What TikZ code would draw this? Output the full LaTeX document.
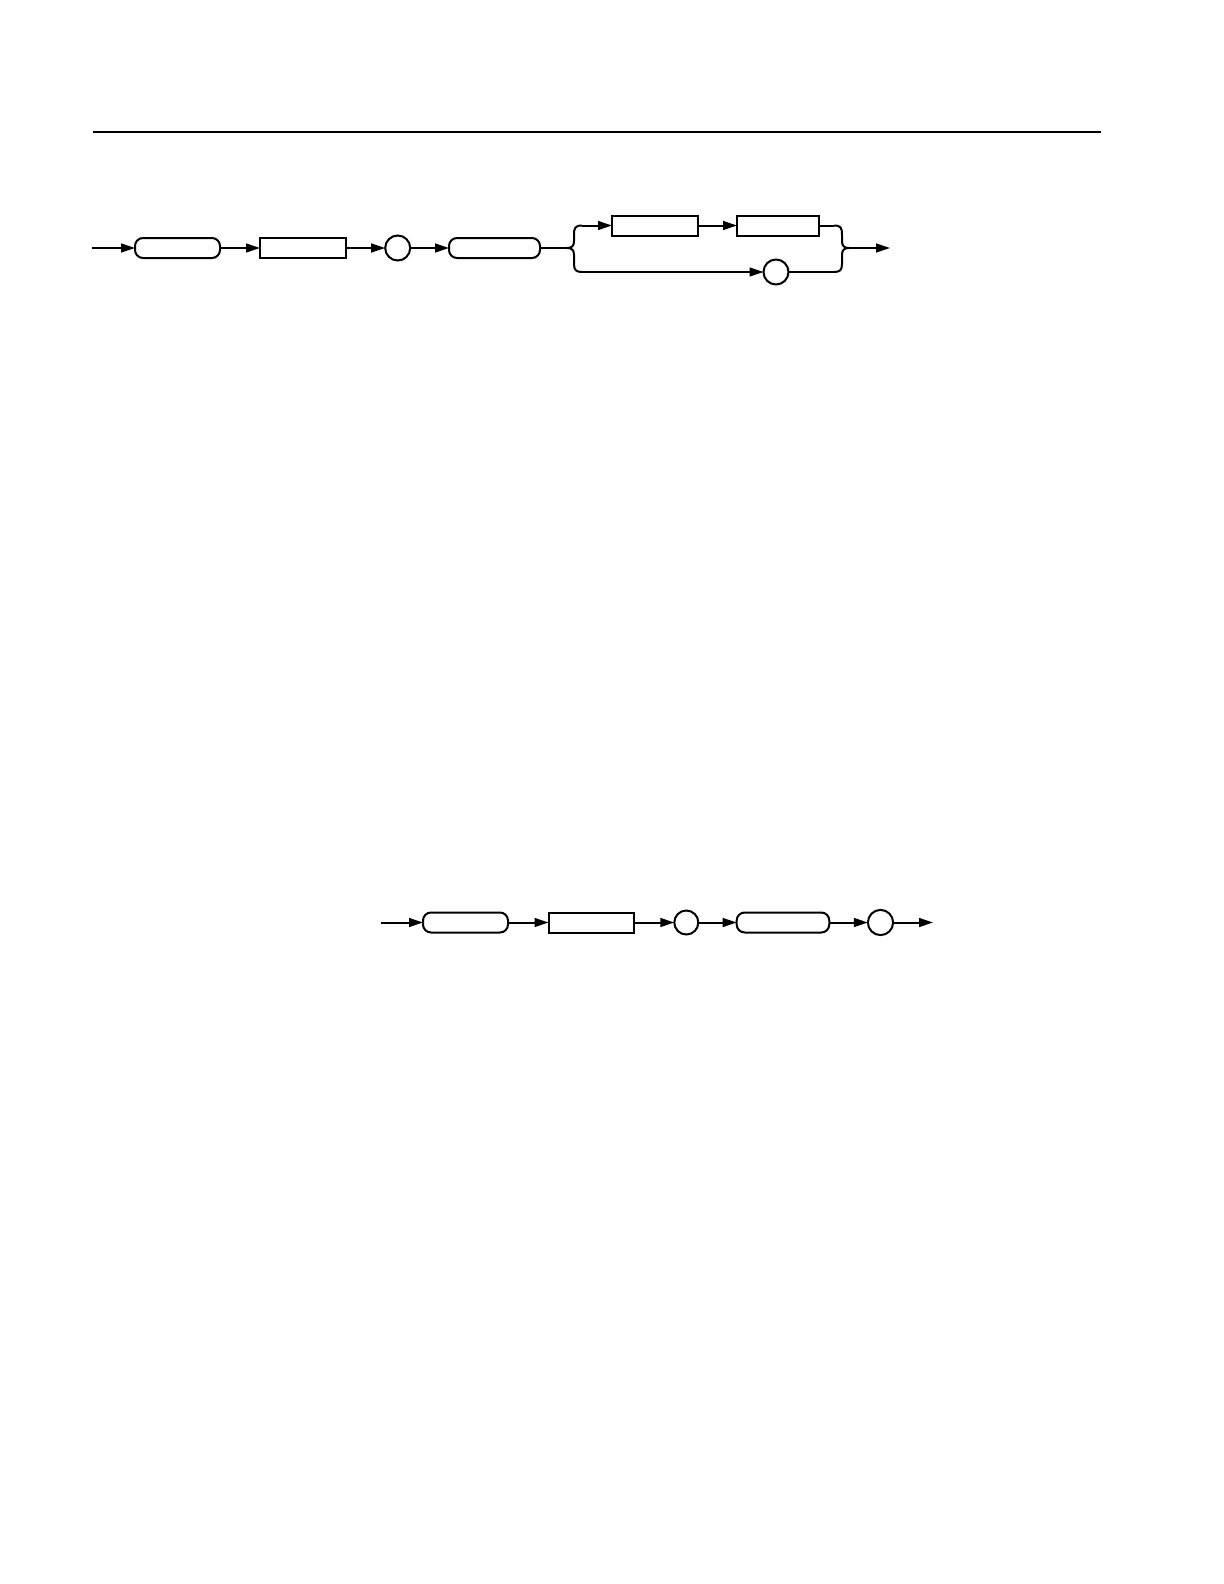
\documentclass[tikz,border=0pt]{standalone}
\usetikzlibrary{arrows.meta}
\begin{document}
\begin{tikzpicture}[x=0.5pt,y=-0.5pt,
  every node/.style={inner sep=0pt, outer sep=0pt, line width=1pt},
  rbox/.style={draw, rounded corners=4pt, minimum height=10pt},
  sbox/.style={draw, rectangle, minimum height=10pt},
  circ/.style={draw, circle, minimum size=12.5pt},
  conn/.style={line width=1pt},
  arr/.style={line width=1pt, -{Triangle[length=7pt,width=4.4pt]}},
  brace/.style={line width=1pt}]
\useasboundingbox (0,0) rectangle (1224,1584);
% rule
\coordinate (r1) at (93,132);
\coordinate (r2) at (1101,132);
\draw[line width=0.6pt] (r1) -- (r2);
% ---- top diagram ----
\coordinate (s1) at (92,248);
\node[rbox, minimum width=42.5pt] (b1) at (177.5,248) {};
\node[sbox, minimum width=43pt] (q1) at (303,248) {};
\node[circ] (c1) at (397.7,248) {};
\node[rbox, minimum width=45.5pt] (b2) at (494.5,248) {};
\node[sbox, minimum width=43pt] (q3) at (655,225.5) {};
\node[sbox, minimum width=41pt] (q4) at (778,225.5) {};
\node[circ] (c2) at (776,272) {};
\coordinate (lt) at (567,248);
\coordinate (lu) at (582,225.5);
\coordinate (ld) at (582,272);
\coordinate (rt) at (849,248);
\coordinate (ru) at (834,225.5);
\coordinate (rd) at (834,272);
\coordinate (e1) at (890,248);
\draw[arr] (s1) -- (b1);
\draw[arr] (b1) -- (q1);
\draw[arr] (q1) -- (c1);
\draw[arr] (c1) -- (b2);
\draw[conn] (b2) -- (lt);
\draw[brace] (lu) .. controls (575,225.5) and (574,228) .. (574,235) -- (574,241)
   .. controls (574,246) and (572,248) .. (lt)
   .. controls (572,248) and (574,250) .. (574,255) -- (574,264)
   .. controls (574,270) and (576,272) .. (ld);
\draw[brace] (ru) .. controls (841,225.5) and (842,228) .. (842,235) -- (842,241)
   .. controls (842,246) and (844,248) .. (rt)
   .. controls (844,248) and (842,250) .. (842,255) -- (842,264)
   .. controls (842,270) and (840,272) .. (rd);
\draw[arr] (lu) -- (q3);
\draw[arr] (q3) -- (q4);
\draw[conn] (q4) -- (ru);
\draw[arr] (ld) -- (c2);
\draw[conn] (c2) -- (rd);
\draw[arr] (rt) -- (e1);
% ---- bottom diagram ----
\coordinate (s2) at (380.7,922.5);
\node[rbox, minimum width=42.5pt] (b3) at (465.5,922.5) {};
\node[sbox, minimum width=42.5pt] (q5) at (591,922.5) {};
\node[circ, minimum size=12pt] (c3) at (686.3,922.5) {};
\node[rbox, minimum width=46.3pt] (b4) at (783,922.5) {};
\node[circ, minimum size=12.6pt] (c4) at (880.5,922.5) {};
\coordinate (e2) at (933,922.5);
\draw[arr] (s2) -- (b3);
\draw[arr] (b3) -- (q5);
\draw[arr] (q5) -- (c3);
\draw[arr] (c3) -- (b4);
\draw[arr] (b4) -- (c4);
\draw[arr] (c4) -- (e2);
\end{tikzpicture}
\end{document}
